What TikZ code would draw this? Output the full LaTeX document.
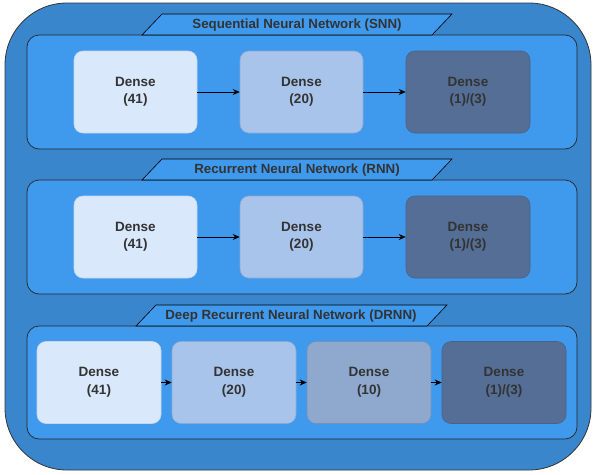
\documentclass[tikz,border=0pt]{standalone}
\usepackage{fontspec}
\setmainfont{Liberation Sans}
\usetikzlibrary{arrows.meta}
\definecolor{outerblue}{HTML}{3A86CD}
\definecolor{panelblue}{HTML}{3F99EC}
\definecolor{nA}{HTML}{DAE8FC}
\definecolor{nAd}{HTML}{C5D5EC}
\definecolor{nB}{HTML}{A9C4EB}
\definecolor{nBd}{HTML}{8DA8D2}
\definecolor{nC}{HTML}{8FA9CE}
\definecolor{nCd}{HTML}{7890B6}
\definecolor{nD}{HTML}{546E95}
\definecolor{nDd}{HTML}{4A6289}
\definecolor{txt}{HTML}{333333}
\tikzset{
  dbox/.style={rounded corners=9pt, minimum height=82pt, align=center, text=txt,
     font=\bfseries\fontsize{13.5}{17.5}\selectfont, inner sep=0pt, line width=0.6pt},
  lA/.style={dbox, fill=nA, draw=nAd},
  lB/.style={dbox, fill=nB, draw=nBd},
  lC/.style={dbox, fill=nC, draw=nCd},
  lD/.style={dbox, fill=nD, draw=nDd},
  conn/.style={-{Stealth[length=7pt,width=6pt]}, line width=0.7pt, black},
  tab/.style={draw=black, fill=panelblue, line width=0.6pt},
  tabtext/.style={text=txt, font=\bfseries\fontsize{13.3}{15}\selectfont, inner sep=0pt}
}
\begin{document}
\begin{tikzpicture}[x=1pt,y=-1pt]
\useasboundingbox (0,0) rectangle (594,474);
% outer container
\draw[fill=outerblue, draw=txt, line width=0.8pt, rounded corners=62pt] (5,3) rectangle (591,470);
% panels
\foreach \t/\b in {35/149, 180/294, 326/439}{
  \draw[fill=panelblue, draw=black!85, line width=0.7pt, rounded corners=12pt] (27,\t) rectangle (577,\b);
}
% tabs
\draw[tab] (142,35) -- (162,14) -- (452,14) -- (432,35) -- cycle;
\node[tabtext] (t1) at (297,25) {Sequential Neural Network (SNN)};
\draw[tab] (142,180) -- (162,159) -- (452,159) -- (432,180) -- cycle;
\node[tabtext] (t2) at (297,170) {Recurrent Neural Network (RNN)};
\draw[tab] (136,326) -- (156,305) -- (447,305) -- (427,326) -- cycle;
\node[tabtext] (t3) at (291,316) {Deep Recurrent Neural Network (DRNN)};
% row 1
\node[lA, minimum width=123pt] (a1) at (135.5,92) {Dense\\(41)};
\node[lB, minimum width=123pt] (a2) at (301.5,92) {Dense\\(20)};
\node[lD, minimum width=124pt] (a3) at (468,92) {Dense\\(1)/(3)};
\draw[conn] (a1) -- (a2);
\draw[conn] (a2) -- (a3);
% row 2
\node[lA, minimum width=123pt] (b1) at (135.5,237) {Dense\\(41)};
\node[lB, minimum width=123pt] (b2) at (301.5,237) {Dense\\(20)};
\node[lD, minimum width=124pt] (b3) at (468,237) {Dense\\(1)/(3)};
\draw[conn] (b1) -- (b2);
\draw[conn] (b2) -- (b3);
% row 3
\node[lA, minimum width=124pt] (c1) at (99,382.5) {Dense\\(41)};
\node[lB, minimum width=124pt] (c2) at (234,382.5) {Dense\\(20)};
\node[lC, minimum width=124pt] (c3) at (369,382.5) {Dense\\(10)};
\node[lD, minimum width=124pt] (c4) at (504,382.5) {Dense\\(1)/(3)};
\draw[conn] (c1) -- (c2);
\draw[conn] (c2) -- (c3);
\draw[conn] (c3) -- (c4);
\end{tikzpicture}
\end{document}
